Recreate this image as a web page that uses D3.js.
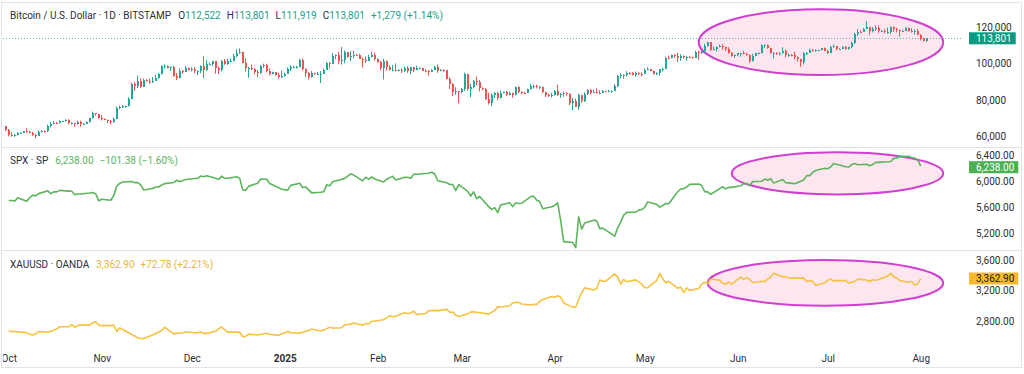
<!DOCTYPE html>
<meta charset="utf-8">
<html>
<!-- Load d3.js -->
<script src="https://d3js.org/d3.v7.min.js"></script>
<style>
  body { margin: 0; background: #fff; }
  svg text { font-family: Roboto, sans-serif; }
</style>
<body>
<div id="chart"></div>
<script>

// BTC / USD daily candles (BITSTAMP), first bar is 2024-09-30, values in thousands
var btcStart = "2024-09-30";
var btcFirstOpen = 65.6;
var btcClose = [
  63.3,
  60.8,60.6,60.7,62.1,62.1,62.8,62.2,62.1,60.6,60.3,62.4,63.2,62.9,66.0,67.1,67.6,67.4,68.4,68.4,69.0,67.4,67.4,66.7,68.2,66.6,67.0,68.0,69.9,72.7,72.3,70.2,
  69.5,69.3,68.7,67.8,69.4,75.6,75.9,76.5,76.7,80.5,88.7,87.9,90.6,87.3,91.1,90.6,89.8,90.5,92.3,94.3,98.4,98.9,97.7,98.0,93.0,91.9,95.9,95.6,97.5,96.4,
  97.2,95.9,96.0,98.8,96.6,99.9,99.9,101.2,97.4,96.6,101.1,100.0,101.4,101.4,104.3,106.0,106.1,100.2,97.5,97.8,97.2,95.1,94.7,98.6,99.4,95.8,94.2,95.1,93.7,92.8,93.4,
  94.4,96.9,98.1,98.2,98.3,102.1,96.9,95.0,92.5,94.7,94.5,94.5,94.5,96.5,100.5,99.9,104.1,104.4,101.1,102.0,106.1,103.7,103.9,104.8,104.7,102.6,102.1,101.3,103.7,104.7,102.4,
  100.6,97.7,101.4,97.9,96.6,96.6,96.5,96.5,96.1,97.4,95.7,97.9,96.6,97.5,97.6,96.1,95.8,95.6,96.6,98.3,96.1,96.6,96.3,91.5,88.7,84.3,84.7,84.4,
  86.0,94.3,86.1,87.2,90.6,89.9,86.7,86.2,80.7,78.5,82.9,83.7,81.1,83.9,84.3,82.6,84.1,82.7,86.9,84.2,84.1,83.8,86.1,87.5,87.5,86.9,87.2,84.4,82.6,82.4,82.5,
  85.2,82.5,83.1,83.8,83.5,78.4,79.2,76.3,82.6,79.6,83.4,85.3,83.7,84.5,83.7,84.0,84.9,84.4,85.1,85.1,87.5,93.4,93.7,93.9,94.7,94.6,93.8,95.0,94.3,94.2,
  96.5,96.9,95.9,94.3,94.7,96.8,97.0,103.2,102.9,104.6,104.1,102.8,104.1,103.5,103.7,103.5,103.1,106.4,105.6,106.8,109.6,111.6,107.3,107.8,109.0,109.4,108.9,107.8,105.6,103.9,104.6,
  105.7,105.8,105.4,104.7,101.5,104.3,105.6,105.7,110.2,110.2,108.6,105.6,106.0,105.5,105.5,106.8,104.6,104.8,104.6,103.3,102.2,100.9,105.5,106.0,107.3,106.9,107.2,107.3,108.4,107.1,
  105.7,108.8,109.6,107.9,108.2,109.2,108.2,108.9,111.3,115.9,117.5,117.4,119.1,119.8,117.7,118.7,119.3,117.9,117.9,117.3,117.4,119.9,118.7,118.3,117.6,117.9,119.4,118.0,117.8,117.8,115.7,
  113.3,112.522,113.801
];
var btcHigh = [
  65.6,
  64.1,62.4,61.5,62.4,62.4,63.0,64.5,63.2,62.5,61.3,63.4,63.5,63.3,66.5,67.9,68.4,67.9,68.9,68.7,69.4,69.5,67.8,67.4,68.8,68.7,67.4,68.2,70.2,73.6,72.9,72.6,
  71.6,69.9,69.4,69.0,70.5,76.4,76.9,77.2,76.9,81.5,89.5,89.9,93.4,91.8,91.8,91.4,91.7,92.6,94.0,94.8,99.0,99.6,98.9,98.5,98.7,94.8,97.3,96.6,98.7,97.8,
  97.9,98.1,96.2,99.0,103.9,101.9,100.5,101.4,101.2,98.3,101.9,102.5,102.6,102.7,105.3,107.8,108.3,106.5,102.8,98.2,99.5,97.4,96.4,99.2,99.9,99.9,97.3,95.5,95.2,94.9,96.1,
  94.9,97.8,98.9,98.7,98.8,102.5,102.7,97.3,95.3,95.8,94.9,95.4,95.9,97.3,100.7,100.8,105.8,104.9,106.3,109.1,107.1,106.3,106.8,107.1,105.3,105.4,103.2,103.8,104.8,106.4,106.0,
  102.7,101.4,102.5,101.7,99.0,99.2,100.1,96.9,97.3,98.3,98.5,98.2,98.0,98.8,97.9,97.7,97.0,96.4,96.9,98.7,99.5,96.9,96.9,96.5,92.5,89.3,87.0,85.1,
  86.6,95.0,94.4,88.9,91.0,92.8,91.0,86.9,86.5,83.9,83.6,84.3,84.3,85.2,84.6,85.0,84.6,84.1,87.3,87.4,84.8,84.5,86.3,88.7,88.5,88.3,87.8,87.4,84.5,83.5,83.9,
  85.5,88.4,83.9,84.7,84.2,83.7,81.2,80.8,83.5,82.7,84.2,85.9,86.0,85.8,86.4,85.4,85.5,85.1,85.6,85.3,88.8,93.8,94.7,94.1,95.8,95.3,95.2,95.6,95.5,95.2,
  97.4,97.9,96.9,96.3,95.2,96.9,97.7,103.8,104.3,104.9,105.0,105.8,105.0,104.4,104.2,104.1,103.7,107.0,107.1,107.1,110.7,111.9,111.8,109.4,109.3,110.4,110.6,109.3,108.9,106.3,104.9,
  105.8,105.9,106.8,105.9,105.0,105.3,105.9,106.0,110.5,110.4,110.4,108.6,106.2,106.2,106.0,108.9,107.7,105.5,105.2,106.5,103.9,102.5,106.1,106.3,108.1,108.0,107.8,107.6,108.5,108.7,
  107.5,109.7,110.5,109.7,108.4,109.5,109.7,109.2,112.0,116.8,118.9,118.2,119.5,123.2,119.9,120.0,120.8,120.9,118.5,118.9,119.7,120.3,120.1,119.5,118.4,118.5,119.8,119.8,119.3,118.8,118.9,
  116.1,114.1,113.801
];
var btcLow = [
  62.9,
  60.1,59.9,59.8,60.5,61.7,61.9,62.1,61.8,60.3,58.9,60.2,62.3,62.0,62.4,64.9,66.7,66.7,67.1,68.1,68.1,66.6,66.6,65.3,66.5,65.4,66.5,66.8,67.6,69.7,71.4,69.7,
  68.8,69.0,67.4,66.8,67.5,69.4,74.9,75.6,75.8,76.5,80.3,85.1,86.6,86.7,87.1,90.1,88.8,89.3,90.5,91.6,94.1,97.2,97.3,95.8,92.6,90.9,91.8,94.6,95.4,96.1,
  95.7,94.6,93.6,94.7,92.1,95.9,99.0,98.7,94.4,94.2,95.6,99.3,99.2,100.6,101.2,103.3,105.3,100.0,95.6,92.2,96.4,94.2,92.4,94.4,97.6,95.2,93.5,94.1,93.3,91.6,92.0,
  92.8,94.4,96.0,97.8,97.3,97.9,96.2,92.5,91.2,92.3,93.8,93.7,89.3,94.3,96.5,97.3,99.9,102.3,99.6,99.4,100.1,103.3,101.3,102.8,104.1,102.5,97.8,100.3,101.3,103.3,101.6,
  100.3,96.2,91.2,96.2,96.2,95.7,95.7,95.7,94.7,95.3,94.9,94.1,95.3,96.3,97.2,96.0,95.2,93.4,95.3,96.4,94.9,95.8,95.4,91.3,86.0,82.3,82.8,78.2,
  83.7,85.0,85.1,81.5,86.4,87.9,84.7,85.3,80.0,77.5,76.6,81.0,79.9,80.8,83.7,82.0,82.5,81.2,82.6,83.7,83.2,83.7,83.8,85.6,86.3,86.3,85.9,83.7,81.6,81.6,81.3,
  82.4,82.3,81.2,81.7,82.4,77.2,74.5,76.2,74.6,78.4,78.9,82.7,83.1,83.7,83.6,83.1,83.9,84.2,84.3,83.9,85.1,87.1,91.8,91.7,92.9,93.9,93.5,92.8,93.7,92.9,
  94.1,96.3,95.7,94.0,93.5,93.4,95.8,96.9,102.3,102.8,103.1,100.8,101.5,102.6,101.4,103.1,102.6,103.0,102.0,105.2,106.1,109.2,106.8,107.2,106.6,108.8,107.6,106.8,105.4,103.7,103.1,
  103.9,103.7,105.0,104.2,100.4,101.1,103.9,105.0,105.4,108.4,108.1,105.4,102.7,104.8,104.5,105.4,103.4,103.6,103.9,102.4,101.0,98.2,99.6,104.7,105.9,106.6,106.4,106.8,107.2,106.8,
  105.2,105.6,108.6,107.3,107.8,107.8,107.6,107.5,108.4,110.6,115.2,116.9,117.3,118.9,115.7,117.0,117.8,116.8,117.3,116.6,116.4,116.1,117.3,117.0,114.7,117.5,117.8,117.4,116.9,115.8,115.5,
  112.7,112.2,111.919
];

// S&P 500 daily closes
var spxClose = [
  ["2024-10-01",5708.8],["2024-10-02",5709.5],["2024-10-03",5699.9],["2024-10-04",5751.1],["2024-10-07",5695.9],["2024-10-08",5751.1],["2024-10-09",5792.0],["2024-10-10",5780.1],["2024-10-11",5815.0],["2024-10-14",5859.9],["2024-10-15",5815.3],["2024-10-16",5842.5],["2024-10-17",5841.5],["2024-10-18",5864.7],["2024-10-21",5854.0],["2024-10-22",5851.2],["2024-10-23",5797.4],["2024-10-24",5809.9],["2024-10-25",5808.1],["2024-10-28",5823.5],["2024-10-29",5832.9],["2024-10-30",5813.7],["2024-10-31",5705.5],
  ["2024-11-01",5728.8],["2024-11-04",5712.7],["2024-11-05",5782.8],["2024-11-06",5929.0],["2024-11-07",5973.1],["2024-11-08",5995.5],["2024-11-11",6001.4],["2024-11-12",5984.0],["2024-11-13",5985.4],["2024-11-14",5949.2],["2024-11-15",5870.6],["2024-11-18",5893.6],["2024-11-19",5917.0],["2024-11-20",5917.1],["2024-11-21",5948.7],["2024-11-22",5969.3],["2024-11-25",5987.4],["2024-11-26",6021.6],["2024-11-27",5998.7],["2024-11-29",6032.4],
  ["2024-12-02",6047.2],["2024-12-03",6049.9],["2024-12-04",6086.5],["2024-12-05",6075.1],["2024-12-06",6090.3],["2024-12-09",6052.9],["2024-12-10",6034.9],["2024-12-11",6084.2],["2024-12-12",6051.1],["2024-12-13",6051.1],["2024-12-16",6074.1],["2024-12-17",6050.6],["2024-12-18",5872.2],["2024-12-19",5867.1],["2024-12-20",5930.9],["2024-12-23",5974.1],["2024-12-24",6040.0],["2024-12-26",6037.6],["2024-12-27",5970.8],["2024-12-30",5906.9],["2024-12-31",5881.6],
  ["2025-01-02",5868.6],["2025-01-03",5942.5],["2025-01-06",5975.4],["2025-01-07",5909.0],["2025-01-08",5918.3],["2025-01-10",5827.0],["2025-01-13",5836.2],["2025-01-14",5842.9],["2025-01-15",5949.9],["2025-01-16",5937.3],["2025-01-17",5996.7],["2025-01-21",6049.2],["2025-01-22",6086.4],["2025-01-23",6119.0],["2025-01-24",6101.2],["2025-01-27",6012.3],["2025-01-28",6067.7],["2025-01-29",6039.3],["2025-01-30",6071.2],["2025-01-31",6040.5],
  ["2025-02-03",5994.6],["2025-02-04",6037.9],["2025-02-05",6061.5],["2025-02-06",6083.6],["2025-02-07",6026.0],["2025-02-10",6066.4],["2025-02-11",6068.5],["2025-02-12",6052.0],["2025-02-13",6115.1],["2025-02-14",6114.6],["2025-02-18",6129.6],["2025-02-19",6144.2],["2025-02-20",6117.5],["2025-02-21",6013.1],["2025-02-24",5983.3],["2025-02-25",5955.3],["2025-02-26",5956.1],["2025-02-27",5861.6],["2025-02-28",5954.5],
  ["2025-03-03",5849.7],["2025-03-04",5778.2],["2025-03-05",5842.6],["2025-03-06",5738.5],["2025-03-07",5770.2],["2025-03-10",5614.6],["2025-03-11",5572.1],["2025-03-12",5599.3],["2025-03-13",5521.5],["2025-03-14",5638.9],["2025-03-17",5675.1],["2025-03-18",5614.7],["2025-03-19",5675.3],["2025-03-20",5662.9],["2025-03-21",5667.6],["2025-03-24",5767.6],["2025-03-25",5776.7],["2025-03-26",5712.2],["2025-03-27",5693.3],["2025-03-28",5580.9],["2025-03-31",5611.9],
  ["2025-04-01",5633.1],["2025-04-02",5671.0],["2025-04-03",5396.5],["2025-04-04",5074.1],["2025-04-07",5062.3],["2025-04-08",4982.8],["2025-04-09",5456.9],["2025-04-10",5268.1],["2025-04-11",5363.4],["2025-04-14",5406.0],["2025-04-15",5396.6],["2025-04-16",5275.7],["2025-04-17",5282.7],["2025-04-21",5158.2],["2025-04-22",5287.8],["2025-04-23",5375.9],["2025-04-24",5484.8],["2025-04-25",5525.2],["2025-04-28",5528.8],["2025-04-29",5560.8],["2025-04-30",5569.1],
  ["2025-05-01",5604.1],["2025-05-02",5686.7],["2025-05-05",5650.4],["2025-05-06",5606.9],["2025-05-07",5631.3],["2025-05-08",5663.9],["2025-05-09",5659.9],["2025-05-12",5844.2],["2025-05-13",5886.6],["2025-05-14",5892.6],["2025-05-15",5916.9],["2025-05-16",5958.4],["2025-05-19",5963.6],["2025-05-20",5940.5],["2025-05-21",5844.6],["2025-05-22",5842.0],["2025-05-23",5802.8],["2025-05-27",5921.5],["2025-05-28",5888.6],["2025-05-29",5912.2],["2025-05-30",5911.7],
  ["2025-06-02",5935.9],["2025-06-03",5970.4],["2025-06-04",5970.8],["2025-06-05",5939.3],["2025-06-06",6000.4],["2025-06-09",6005.9],["2025-06-10",6038.8],["2025-06-11",6022.2],["2025-06-12",6045.3],["2025-06-13",5977.0],["2025-06-16",6033.1],["2025-06-17",5982.7],["2025-06-18",5980.9],["2025-06-20",5967.8],["2025-06-23",6025.2],["2025-06-24",6092.2],["2025-06-25",6092.2],["2025-06-26",6141.0],["2025-06-27",6173.1],["2025-06-30",6205.0],
  ["2025-07-01",6198.0],["2025-07-02",6227.4],["2025-07-03",6279.4],["2025-07-07",6230.0],["2025-07-08",6225.5],["2025-07-09",6263.3],["2025-07-10",6280.5],["2025-07-11",6259.8],["2025-07-14",6268.6],["2025-07-15",6243.8],["2025-07-16",6263.7],["2025-07-17",6297.4],["2025-07-18",6296.8],["2025-07-21",6305.6],["2025-07-22",6309.6],["2025-07-23",6358.9],["2025-07-24",6363.4],["2025-07-25",6388.6],["2025-07-28",6389.8],["2025-07-29",6371.0],["2025-07-30",6362.9],["2025-07-31",6339.4],
  ["2025-08-01",6238.0]
];

// XAU / USD daily closes (OANDA)
var xauClose = [
  ["2024-10-01",2663],["2024-10-02",2657],["2024-10-03",2657],["2024-10-04",2653],["2024-10-07",2643],["2024-10-08",2622],["2024-10-09",2611],["2024-10-10",2630],["2024-10-11",2657],["2024-10-14",2649],["2024-10-15",2662],["2024-10-16",2674],["2024-10-17",2693],["2024-10-18",2721],["2024-10-21",2720],["2024-10-22",2749],["2024-10-23",2715],["2024-10-24",2736],["2024-10-25",2747],["2024-10-28",2743],["2024-10-29",2774],["2024-10-30",2788],["2024-10-31",2744],
  ["2024-11-01",2736],["2024-11-04",2736],["2024-11-05",2742],["2024-11-06",2659],["2024-11-07",2706],["2024-11-08",2685],["2024-11-11",2618],["2024-11-12",2598],["2024-11-13",2573],["2024-11-14",2565],["2024-11-15",2563],["2024-11-18",2612],["2024-11-19",2631],["2024-11-20",2650],["2024-11-21",2670],["2024-11-22",2715],["2024-11-25",2626],["2024-11-26",2633],["2024-11-27",2638],["2024-11-28",2640],["2024-11-29",2650],
  ["2024-12-02",2640],["2024-12-03",2643],["2024-12-04",2650],["2024-12-05",2632],["2024-12-06",2633],["2024-12-09",2660],["2024-12-10",2694],["2024-12-11",2718],["2024-12-12",2680],["2024-12-13",2648],["2024-12-16",2652],["2024-12-17",2646],["2024-12-18",2587],["2024-12-19",2593],["2024-12-20",2622],["2024-12-23",2612],["2024-12-24",2618],["2024-12-26",2634],["2024-12-27",2621],["2024-12-30",2606],["2024-12-31",2624],
  ["2025-01-02",2658],["2025-01-03",2640],["2025-01-06",2636],["2025-01-07",2648],["2025-01-08",2661],["2025-01-09",2670],["2025-01-10",2690],["2025-01-13",2663],["2025-01-14",2677],["2025-01-15",2696],["2025-01-16",2715],["2025-01-17",2703],["2025-01-20",2708],["2025-01-21",2745],["2025-01-22",2755],["2025-01-23",2755],["2025-01-24",2770],["2025-01-27",2740],["2025-01-28",2763],["2025-01-29",2760],["2025-01-30",2794],["2025-01-31",2798],
  ["2025-02-03",2815],["2025-02-04",2843],["2025-02-05",2866],["2025-02-06",2856],["2025-02-07",2861],["2025-02-10",2908],["2025-02-11",2898],["2025-02-12",2904],["2025-02-13",2929],["2025-02-14",2883],["2025-02-17",2898],["2025-02-18",2935],["2025-02-19",2934],["2025-02-20",2939],["2025-02-21",2936],["2025-02-24",2952],["2025-02-25",2915],["2025-02-26",2916],["2025-02-27",2876],["2025-02-28",2858],
  ["2025-03-03",2893],["2025-03-04",2918],["2025-03-05",2920],["2025-03-06",2911],["2025-03-07",2910],["2025-03-10",2889],["2025-03-11",2915],["2025-03-12",2935],["2025-03-13",2988],["2025-03-14",2984],["2025-03-17",3001],["2025-03-18",3034],["2025-03-19",3047],["2025-03-20",3044],["2025-03-21",3023],["2025-03-24",3011],["2025-03-25",3020],["2025-03-26",3019],["2025-03-27",3057],["2025-03-28",3085],["2025-03-31",3124],
  ["2025-04-01",3113],["2025-04-02",3134],["2025-04-03",3115],["2025-04-04",3038],["2025-04-07",2982],["2025-04-08",2983],["2025-04-09",3083],["2025-04-10",3176],["2025-04-11",3238],["2025-04-14",3211],["2025-04-15",3230],["2025-04-16",3343],["2025-04-17",3327],["2025-04-18",3327],["2025-04-21",3424],["2025-04-22",3381],["2025-04-23",3288],["2025-04-24",3349],["2025-04-25",3319],["2025-04-28",3345],["2025-04-29",3317],["2025-04-30",3288],
  ["2025-05-01",3239],["2025-05-02",3240],["2025-05-05",3334],["2025-05-06",3431],["2025-05-07",3364],["2025-05-08",3306],["2025-05-09",3326],["2025-05-12",3233],["2025-05-13",3249],["2025-05-14",3176],["2025-05-15",3240],["2025-05-16",3205],["2025-05-19",3230],["2025-05-20",3289],["2025-05-21",3314],["2025-05-22",3294],["2025-05-23",3357],["2025-05-26",3342],["2025-05-27",3300],["2025-05-28",3288],["2025-05-29",3318],["2025-05-30",3289],
  ["2025-06-02",3381],["2025-06-03",3352],["2025-06-04",3374],["2025-06-05",3352],["2025-06-06",3310],["2025-06-09",3326],["2025-06-10",3322],["2025-06-11",3355],["2025-06-12",3386],["2025-06-13",3433],["2025-06-16",3385],["2025-06-17",3388],["2025-06-18",3369],["2025-06-19",3370],["2025-06-20",3368],["2025-06-23",3368],["2025-06-24",3322],["2025-06-25",3332],["2025-06-26",3327],["2025-06-27",3273],["2025-06-30",3303],
  ["2025-07-01",3338],["2025-07-02",3357],["2025-07-03",3326],["2025-07-04",3337],["2025-07-07",3335],["2025-07-08",3302],["2025-07-09",3313],["2025-07-10",3324],["2025-07-11",3355],["2025-07-14",3343],["2025-07-15",3324],["2025-07-16",3347],["2025-07-17",3339],["2025-07-18",3350],["2025-07-21",3397],["2025-07-22",3431],["2025-07-23",3387],["2025-07-24",3369],["2025-07-25",3337],["2025-07-28",3314],["2025-07-29",3326],["2025-07-30",3275],["2025-07-31",3290],
  ["2025-08-01",3362.9]
];

// axis ticks
var btcTicks = [60, 80, 100, 120];
var spxTicks = [5200, 5600, 6000, 6400];
var xauTicks = [2800, 3200, 3600];
var monthTicks = ["2024-10-01","2024-11-01","2024-12-01","2025-01-01","2025-02-01","2025-03-01","2025-04-01","2025-05-01","2025-06-01","2025-07-01","2025-08-01"];

// legend rows [label, value]
var btcLegend = [["O","112,522"],["H","113,801"],["L","111,919"],["C","113,801"],["","+1,279 (+1.14%)"]];
var spxLegend = [["","6,238.00"],["","\u2212101.38 (\u22121.60%)"]];
var xauLegend = [["","3,362.90"],["","+72.78 (+2.21%)"]];

// highlighted zones drawn as ellipses [from, to, top, bottom]
var btcZone = ["2025-05-19", "2025-08-08T12:00Z", 129.7, 93.7];
var spxZone = ["2025-05-30", "2025-08-08T12:00Z", 6452, 5803];
var xauZone = ["2025-05-22", "2025-08-08T12:00Z", 3609, 3000];

// ---- layout ----
var width = 1024,
    height = 374,
    plotLeft = 3,
    plotRight = 962,
    axisX = 976;

var upColor = "#26a69a",
    downColor = "#ef5350",
    spxColor = "#5cb45c",
    xauColor = "#f5c242",
    zoneStroke = "#d03fd0",
    zoneFill = "#fde6ef",
    textColor = "#2a2e39",
    gridColor = "#e0e3eb";

var svg = d3.select("#chart")
  .append("svg")
    .attr("width", width)
    .attr("height", height);

var x = d3.scaleUtc()
  .domain([new Date("2024-10-01"), new Date("2025-08-01")])
  .range([8.7, 920.7]);

var yBtc = d3.scaleLinear().domain([60, 120]).range([136.5, 27]);
var ySpx = d3.scaleLinear().domain([5200, 6400]).range([233.5, 155.7]);
var yXau = d3.scaleLinear().domain([2800, 3600]).range([320.8, 260.7]);

// frame and pane separators
svg.append("rect")
  .attr("x", 1.5).attr("y", 2.5)
  .attr("width", 1020).attr("height", 365)
  .attr("fill", "none")
  .attr("stroke", gridColor);

[147.5, 250.5].forEach(function(y) {
  svg.append("line")
    .attr("x1", 2).attr("x2", 1021)
    .attr("y1", y).attr("y2", y)
    .attr("stroke", gridColor);
});

// clip paths for each pane
var defs = svg.append("defs");
function addClip(id, y0, y1) {
  defs.append("clipPath").attr("id", id)
    .append("rect")
      .attr("x", plotLeft).attr("y", y0)
      .attr("width", plotRight - plotLeft).attr("height", y1 - y0);
}
addClip("clipBtc", 3, 147);
addClip("clipSpx", 148, 250);
addClip("clipXau", 251, 352);
addClip("clipTime", 350, 367);

function drawZone(g, zone, y) {
  var x0 = x(new Date(zone[0])), x1 = x(new Date(zone[1]));
  var y0 = y(zone[2]), y1 = y(zone[3]);
  g.append("ellipse")
    .attr("cx", (x0 + x1) / 2)
    .attr("cy", (y0 + y1) / 2)
    .attr("rx", (x1 - x0) / 2)
    .attr("ry", (y1 - y0) / 2)
    .attr("fill", zoneFill)
    .attr("stroke", zoneStroke)
    .attr("stroke-width", 2);
}

// ---- BTC candles ----
var btc = btcClose.map(function(c, i) {
  return {
    date: d3.utcDay.offset(new Date(btcStart), i),
    open: i ? btcClose[i - 1] : btcFirstOpen,
    close: c,
    high: btcHigh[i],
    low: btcLow[i]
  };
});

var gBtc = svg.append("g").attr("clip-path", "url(#clipBtc)");
drawZone(gBtc, btcZone, yBtc);

var lastBtc = btc[btc.length - 1];
gBtc.append("line")
  .attr("x1", plotLeft).attr("x2", plotRight)
  .attr("y1", Math.round(yBtc(lastBtc.close)) + 0.5)
  .attr("y2", Math.round(yBtc(lastBtc.close)) + 0.5)
  .attr("stroke", upColor)
  .attr("stroke-opacity", 0.8)
  .attr("stroke-dasharray", "1,2");

var candle = gBtc.selectAll("g.candle")
  .data(btc)
  .enter().append("g")
    .attr("class", "candle")
    .attr("fill", function(d) { return d.close >= d.open ? upColor : downColor; })
    .attr("stroke", function(d) { return d.close >= d.open ? upColor : downColor; });

candle.append("line")
  .attr("x1", function(d) { return Math.round(x(d.date)) - 0.5; })
  .attr("x2", function(d) { return Math.round(x(d.date)) - 0.5; })
  .attr("y1", function(d) { return yBtc(d.high); })
  .attr("y2", function(d) { return yBtc(d.low); })
  .attr("stroke-width", 1);

candle.append("rect")
  .attr("x", function(d) { return Math.round(x(d.date)) - 1; })
  .attr("y", function(d) { return yBtc(Math.max(d.open, d.close)); })
  .attr("width", 2)
  .attr("height", function(d) { return Math.max(1, Math.abs(yBtc(d.open) - yBtc(d.close))); })
  .attr("stroke", "none")
  .attr("shape-rendering", "crispEdges");

// ---- SPX and XAU lines ----
function drawLine(clipId, zone, rows, y, color) {
  var g = svg.append("g").attr("clip-path", "url(#" + clipId + ")");
  drawZone(g, zone, y);
  g.append("path")
    .datum(rows)
    .attr("fill", "none")
    .attr("stroke", color)
    .attr("stroke-width", 1.6)
    .attr("stroke-linejoin", "round")
    .attr("d", d3.line()
      .x(function(d) { return x(new Date(d[0])); })
      .y(function(d) { return y(d[1]); }));
}
drawLine("clipSpx", spxZone, spxClose, ySpx, spxColor);
drawLine("clipXau", xauZone, xauClose, yXau, xauColor);

// ---- price axes ----
function priceAxis(y, ticks, fmt) {
  var g = svg.append("g")
    .attr("transform", "translate(" + axisX + ",0)")
    .call(d3.axisRight(y).tickValues(ticks).tickSize(0).tickPadding(0).tickFormat(fmt));
  g.select(".domain").remove();
  g.attr("font-family", "Roboto, sans-serif").attr("font-size", 10).attr("color", textColor);
}
priceAxis(yBtc, btcTicks, function(v) { return d3.format(",")(v * 1000); });
priceAxis(ySpx, spxTicks, d3.format(",.2f"));
priceAxis(yXau, xauTicks, d3.format(",.2f"));

// last price tags
function priceTag(yPos, label, bg, fg) {
  var g = svg.append("g");
  var rect = g.append("rect").attr("fill", bg);
  var t = g.append("text")
    .attr("x", axisX)
    .attr("y", yPos)
    .attr("dy", "0.35em")
    .attr("font-size", 10)
    .attr("fill", fg)
    .text(label);
  var w = t.node().getComputedTextLength();
  rect.attr("x", axisX - 7).attr("y", yPos - 6)
    .attr("width", w + 11).attr("height", 12);
}
priceTag(yBtc(lastBtc.close), d3.format(",")(Math.round(lastBtc.close * 1000)), "#089981", "#fff");
priceTag(ySpx(spxClose[spxClose.length - 1][1]) + 1, d3.format(",.2f")(spxClose[spxClose.length - 1][1]), "#4caf50", "#fff");
priceTag(yXau(xauClose[xauClose.length - 1][1]), d3.format(",.2f")(xauClose[xauClose.length - 1][1]), "#f7b928", "#131722");

// ---- time axis ----
var tAxis = svg.append("g")
  .attr("clip-path", "url(#clipTime)")
  .append("g")
    .attr("transform", "translate(0,355)")
    .call(d3.axisBottom(x)
      .tickValues(monthTicks.map(function(s) { return new Date(s); }))
      .tickSize(0)
      .tickPadding(0)
      .tickFormat(function(d) { return d.getUTCMonth() === 0 ? d.getUTCFullYear() : d3.utcFormat("%b")(d); }));
tAxis.select(".domain").remove();
tAxis.attr("font-family", "Roboto, sans-serif").attr("font-size", 10).attr("color", textColor);
tAxis.selectAll("text")
  .attr("font-weight", function(d) { return d.getUTCMonth() === 0 ? "bold" : null; });

// ---- legends ----
function legend(yPos, title, rows, color) {
  var t = svg.append("text")
    .attr("x", 10)
    .attr("y", yPos)
    .attr("font-size", 10)
    .attr("fill", textColor)
    .text(title);
  rows.forEach(function(r, i) {
    if (r[0]) t.append("tspan").attr("dx", i === 0 ? 7 : 6).text(r[0]);
    t.append("tspan")
      .attr("dx", r[0] ? 0 : (i === 0 ? 7 : 6))
      .attr("fill", color)
      .text(r[1]);
  });
}
legend(19, "Bitcoin / U.S. Dollar \u00b7 1D \u00b7 BITSTAMP", btcLegend, "#22a08a");
legend(164, "SPX \u00b7 SP", spxLegend, "#5cb45c");
legend(268, "XAUUSD \u00b7 OANDA", xauLegend, "#eab52e");

</script>
</body>
</html>
